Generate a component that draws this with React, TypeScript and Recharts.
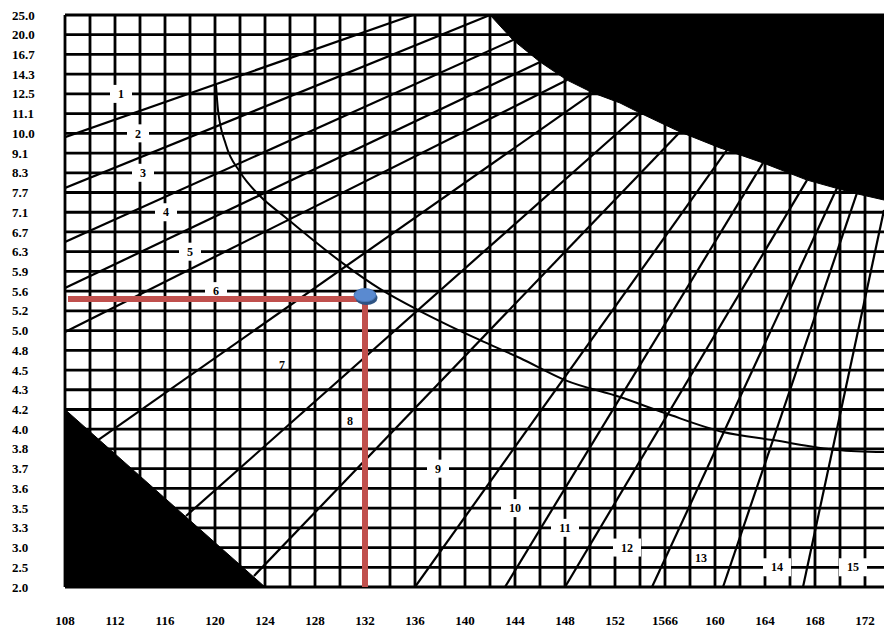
import { Area, CartesianGrid, ComposedChart, Line, Scatter, XAxis, YAxis } from "recharts";

// row labels from bottom (row 0) to top (row 29)
const ROW_LABELS = [
  "2.0", "2.5", "3.0", "3.3", "3.5", "3.6", "3.7", "3.8", "4.0", "4.2",
  "4.3", "4.5", "4.8", "5.0", "5.2", "5.6", "5.9", "6.3", "6.7", "7.1",
  "7.7", "8.3", "9.1", "10.0", "11.1", "12.5", "14.3", "16.7", "20.0", "25.0",
];
const X_TICKS = [108, 112, 116, 120, 124, 128, 132, 136, 140, 144, 148, 152, 156, 160, 164, 168, 172];
const X_TICK_LABELS = [
  "108", "112", "116", "120", "124", "128", "132", "136", "140", "144",
  "148", "152", "1566", "160", "164", "168", "172",
];
const X_MAX = 173.52;

// straight guide lines: [x1, row1, x2, row2]
const GUIDES = [
  [108, 22.81, 135.84, 29],
  [108, 20.23, 142.0, 29],
  [108, 17.49, 143.84, 27.73],
  [108, 15.16, 146.0, 26.62],
  [108, 12.93, 148.16, 25.7],
  [110.64, 7.45, 150.24, 25.05],
  [117.68, 3.6, 154.0, 24.03],
  [123.12, 0.56, 157.2, 23.07],
  [136.0, 0, 160.96, 22.16],
  [143.2, 0, 163.84, 21.5],
  [148.0, 0, 167.36, 20.63],
  [154.96, 0, 169.76, 20.23],
  [160.64, 0, 171.36, 19.98],
  [167.04, 0, 173.52, 19.11],
];

// the bending curve
const CURVE = [
  [120.08, 25.45], [120.24, 24.18], [120.88, 22.41], [122.0, 21.04], [123.6, 19.82],
  [125.6, 18.76], [127.84, 17.59], [130.4, 16.33], [133.2, 15.11], [136.24, 14.04],
  [138.8, 13.23], [141.2, 12.52], [144.4, 11.61], [148.0, 10.49], [152.4, 9.63],
  [156.0, 8.82], [160.64, 7.86], [164.64, 7.45], [169.76, 6.95], [173.52, 6.84],
];

// black regions
const BLACK_TOP = [
  [142.0, 29], [143.84, 27.73], [146.0, 26.62], [148.16, 25.7], [150.24, 25.05],
  [152.4, 24.54], [154.0, 24.03], [157.2, 23.07], [160.4, 22.26], [163.84, 21.5],
  [167.36, 20.63], [171.04, 19.98], [173.52, 19.62],
];
const BLACK_BOTTOM = [[108, 9], [124, 0]];

// numbered labels: [x, row]
const LABEL_POS = [
  [112.48, 25], [113.84, 23], [114.24, 21], [116.08, 19], [118.0, 17],
  [120.08, 15], [125.36, 11.25], [130.8, 8.45], [137.84, 6], [144.0, 4],
  [148.0, 3], [152.96, 2], [158.88, 1.5], [164.96, 1], [171.04, 1],
];

// reading: x = 132, traced to the left axis
const READING_X = 132;
const READING_ROW = 14.6;
const READING_START = 108.24;

const ROWS = ROW_LABELS.map((_, i) => i);
const GRID_X = Array.from({ length: 33 }, (_, i) => 108 + i * 2);

const FONT = "'Liberation Serif', 'Times New Roman', serif";

const pts = (arr: number[][]) => arr.map(([x, y]) => ({ x, y }));

function XTick({ x, payload }: any) {
  const i = X_TICKS.indexOf(payload.value);
  return (
    <text x={x} y={620} dy="0.35em" textAnchor="middle" fontFamily={FONT} fontWeight="bold" fontSize={13} fill="#000">
      {X_TICK_LABELS[i]}
    </text>
  );
}

function YTick({ y, payload }: any) {
  return (
    <text x={12} y={y} dy="0.35em" textAnchor="start" fontFamily={FONT} fontWeight="bold" fontSize={13} fill="#000">
      {ROW_LABELS[payload.value]}
    </text>
  );
}

function NumberLabel({ cx, cy, payload }: any) {
  if (cx == null || cy == null) return null;
  const txt = String(payload.n);
  const w = txt.length > 1 ? 28 : 22;
  const onLine = Number.isInteger(payload.y);
  return (
    <g key={`lbl${txt}`}>
      {onLine && <rect x={cx - w / 2} y={cy - 9} width={w} height={18} fill="#fff" />}
      <text x={cx} y={cy} dy="0.35em" textAnchor="middle" fontFamily={FONT} fontWeight="bold" fontSize={12} fill="#000">
        {txt}
      </text>
    </g>
  );
}

function Marker({ cx, cy }: any) {
  return (
    <g>
      <ellipse cx={cx + 1.5} cy={cy + 3} rx={11} ry={7} fill="#2e5383" />
      <ellipse cx={cx} cy={cy} rx={11} ry={6.5} fill="#5a8ad0" stroke="#4a78b8" strokeWidth={1} />
    </g>
  );
}

const NoShape = () => <g />;

export default function App() {
  const labels = LABEL_POS.map(([x, y], i) => ({ x, y, n: i + 1 }));
  return (
    <div style={{ position: "absolute", left: 0, top: 0, background: "#fff" }}>
      <ComposedChart width={884} height={628} margin={{ top: 15, right: 0, bottom: 0, left: 0 }}>
        <CartesianGrid horizontalValues={ROWS} verticalValues={GRID_X} stroke="#000" strokeWidth={2.8} />
        <XAxis
          type="number"
          dataKey="x"
          domain={[108, X_MAX]}
          ticks={X_TICKS}
          interval={0}
          allowDataOverflow
          axisLine={false}
          tickLine={false}
          height={41}
          tick={<XTick />}
        />
        <YAxis
          type="number"
          dataKey="y"
          domain={[0, 29]}
          ticks={ROWS}
          interval={0}
          allowDataOverflow
          axisLine={false}
          tickLine={false}
          width={65}
          tick={<YTick />}
        />
        {GUIDES.map((g, i) => (
          <Line
            key={`g${i}`}
            data={[{ x: g[0], y: g[1] }, { x: g[2], y: g[3] }]}
            dataKey="y"
            type="linear"
            stroke="#000"
            strokeWidth={2.2}
            dot={false}
            activeDot={false}
            isAnimationActive={false}
          />
        ))}
        <Line
          data={pts(CURVE)}
          dataKey="y"
          type="monotone"
          stroke="#000"
          strokeWidth={2}
          dot={false}
          activeDot={false}
          isAnimationActive={false}
        />
        <Area
          data={pts(BLACK_TOP)}
          dataKey="y"
          baseValue={29}
          type="linear"
          fill="#000"
          fillOpacity={1}
          stroke="#000"
          isAnimationActive={false}
        />
        <Area
          data={pts(BLACK_BOTTOM)}
          dataKey="y"
          baseValue={0}
          type="linear"
          fill="#000"
          fillOpacity={1}
          stroke="#000"
          isAnimationActive={false}
        />
        <Line
          data={labels}
          dataKey="y"
          stroke="none"
          dot={<NumberLabel />}
          activeDot={false}
          isAnimationActive={false}
        />
        <Scatter
          data={[
            { x: READING_START, y: READING_ROW },
            { x: READING_X, y: READING_ROW },
            { x: READING_X, y: 0 },
          ]}
          dataKey="y"
          line={{ stroke: "#c0504d", strokeWidth: 6 }}
          lineType="joint"
          shape={<NoShape />}
          isAnimationActive={false}
        />
        <Scatter data={[{ x: READING_X, y: READING_ROW + 0.2 }]} dataKey="y" shape={<Marker />} isAnimationActive={false} />
      </ComposedChart>
    </div>
  );
}
